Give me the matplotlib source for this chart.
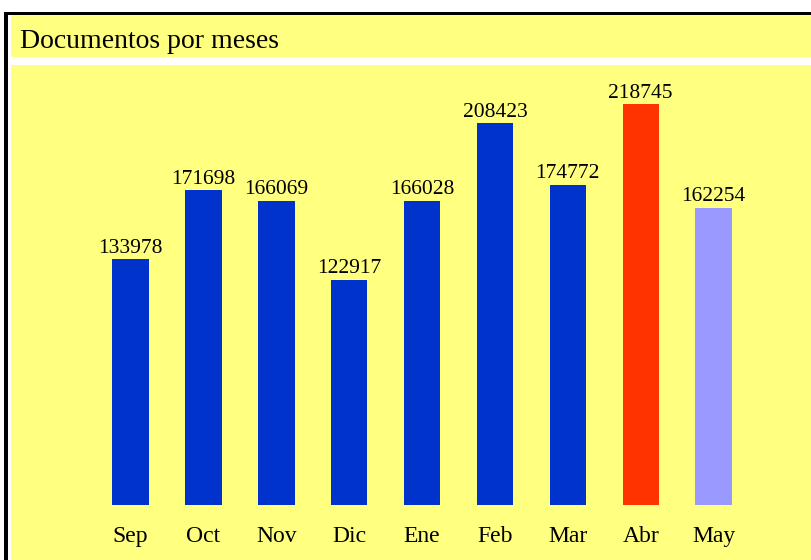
import matplotlib
matplotlib.use("Agg")
import matplotlib.pyplot as plt
from matplotlib.patches import Rectangle

# datos
meses = ["Sep", "Oct", "Nov", "Dic", "Ene", "Feb", "Mar", "Abr", "May"]
documentos = [133978, 171698, 166069, 122917, 166028, 208423, 174772, 218745, 162254]
colores = ["#0033cc"] * 7 + ["#ff3300", "#9999ff"]
titulo = "Documentos por meses"

W, H = 812, 560
amarillo = "#ffff80"
plt.rcParams["font.family"] = ["Liberation Serif", "DejaVu Serif"]

fig = plt.figure(figsize=(W / 100, H / 100), dpi=100, facecolor="white")


def caja(x0, y0, x1, y1, color):
    # coordenadas en pixeles desde arriba a la izquierda
    fig.patches.append(Rectangle((x0 / W, 1 - y1 / H), (x1 - x0) / W, (y1 - y0) / H,
                                 transform=fig.transFigure, facecolor=color,
                                 edgecolor="none", zorder=-5))


caja(4, 12, W + 5, H + 5, "black")
caja(8, 15, W + 5, H + 5, "white")
caja(11, 15, W + 5, 57, amarillo)
caja(11, 65, W + 5, H + 5, amarillo)

fig.text(20 / W, 1 - 48 / H, titulo, fontsize=20, ha="left", va="baseline")

# ejes: base de las barras en y=505 px, tope en y=65 px
ax = fig.add_axes([11 / W, 1 - 505 / H, (W - 11) / W, (505 - 65) / H])
ax.set_zorder(2)
ax.set_facecolor("none")
x = list(range(len(meses)))
barras = ax.bar(x, documentos, width=0.5, color=colores, edgecolor="none")
ax.set_xlim(-1.64, 9.35)
ax.set_ylim(0, 240000)

for b, v in zip(barras, documentos):
    ax.annotate(str(v), (b.get_x() + b.get_width() / 2, v), xytext=(0, 1),
                textcoords="offset points", ha="center", va="bottom", fontsize=15.5)

ax.set_xticks(x)
ax.set_xticklabels(meses, fontsize=17)
ax.tick_params(axis="x", length=0, pad=15)
ax.set_yticks([])
for s in ax.spines.values():
    s.set_visible(False)

fig.savefig("out.png", dpi=100, facecolor="white")
